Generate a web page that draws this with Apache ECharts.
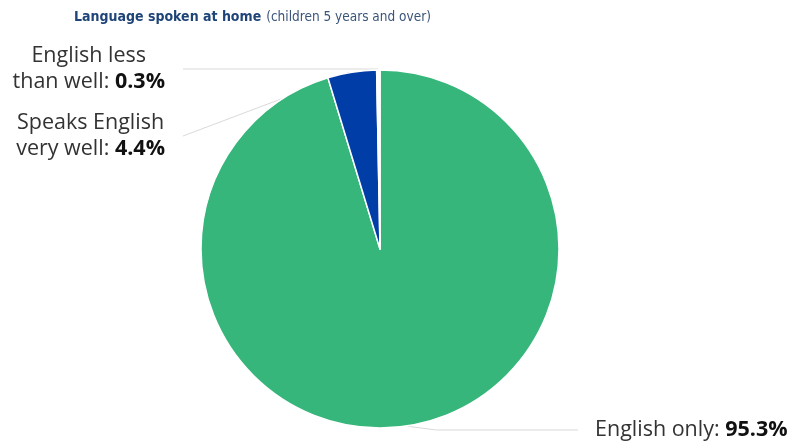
<!DOCTYPE html>
<html>
<head>
<meta charset="utf-8">
<script src="https://cdn.jsdelivr.net/npm/echarts@6/dist/echarts.min.js"></script>
<style>html,body{margin:0;padding:0;background:#fff}#c{width:795px;height:446px}</style>
</head>
<body>
<div id="c"></div>
<script>
const categories = ['English only', 'Speaks English very well', 'English less than well'];
const labelNames = ['English only', 'Speaks English\nvery well', 'English less\nthan well'];
const values = [95.3, 4.4, 0.3];
const colors = ['#36b67b', '#003da6', '#ffffff'];

const chart = echarts.init(document.getElementById('c'), null, {renderer: 'canvas'});
const FONT = '"Open Sans", sans-serif';
const TFONT = '"DejaVu Sans Condensed", sans-serif';

chart.setOption({
  animation: false,
  title: {
    text: '{b|Language spoken at home} {n|(children 5 years and over)}',
    left: 69, top: 3,
    textStyle: {
      rich: {
        b: {fontFamily: TFONT, fontWeight: 'bold', fontSize: 14, color: '#1f4477'},
        n: {fontFamily: TFONT, fontWeight: 'normal', fontSize: 13.5, color: '#3b5479'}
      }
    }
  },
  series: [{
    type: 'pie',
    center: [380, 249],
    radius: [0, 179],
    startAngle: 90,
    clockwise: true,
    data: categories.map((c, i) => ({name: c, value: values[i], itemStyle: {color: colors[i]}})),
    itemStyle: {borderColor: '#ffffff', borderWidth: 1.5},
    label: {
      show: true,
      position: 'outside',
      formatter: p => '{t|' + labelNames[p.dataIndex].replace('\n', '}\n{t|') + ': }{v|' + values[p.dataIndex].toFixed(1) + '%}',
      align: 'center',
      rich: {
        t: {fontFamily: FONT, fontSize: 21.5, color: '#333333', lineHeight: 26},
        v: {fontFamily: FONT, fontSize: 21.5, color: '#111111', fontWeight: 'bold', lineHeight: 26}
      }
    },
    labelLine: {show: true, lineStyle: {color: '#d9d9d9', width: 1}},
    labelLayout: function (p) {
      const pts = p.labelLinePoints;
      const start = pts ? pts[0] : [0, 0];
      const w = p.labelRect.width;
      if (p.dataIndex === 0) {
        return {x: 595 + w / 2, y: 430, align: 'center', verticalAlign: 'middle', labelLinePoints: [start, [start[0] + 30, 430], [578, 430]]};
      } else if (p.dataIndex === 1) {
        return {x: 165 - w / 2, y: 136, align: 'center', verticalAlign: 'middle', labelLinePoints: [start, start, [183, 136]]};
      } else {
        return {x: 165 - w / 2, y: 69, align: 'center', verticalAlign: 'middle', labelLinePoints: [[start[0], 69], [start[0], 69], [183, 69]]};
      }
    }
  }]
});
</script>
</body>
</html>
